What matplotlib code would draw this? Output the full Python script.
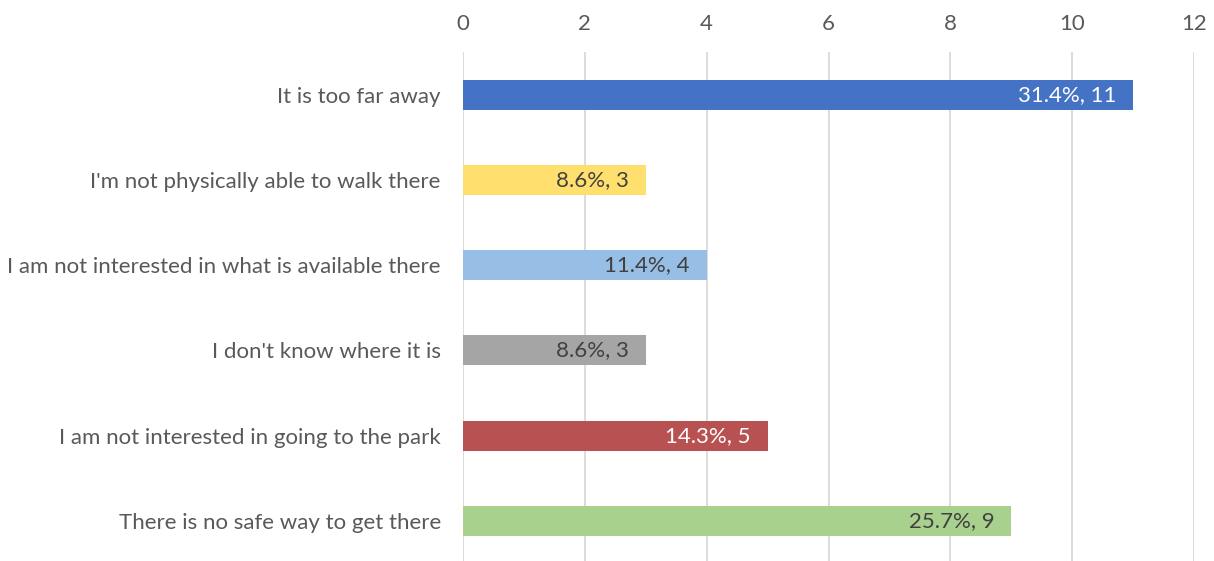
import matplotlib
matplotlib.use("Agg")
import matplotlib.pyplot as plt

# Survey responses: reasons for not visiting the park
reasons = [
    "It is too far away",
    "I'm not physically able to walk there",
    "I am not interested in what is available there",
    "I don't know where it is",
    "I am not interested in going to the park",
    "There is no safe way to get there",
]
counts = [11, 3, 4, 3, 5, 9]
percents = ["31.4%", "8.6%", "11.4%", "8.6%", "14.3%", "25.7%"]
colors = ["#4472C4", "#FFE06F", "#97BFE5", "#A5A5A5", "#B85252", "#A9D18E"]
label_colors = ["white", "#404040", "#404040", "#404040", "white", "#404040"]

plt.rcParams["font.family"] = ["Lato", "DejaVu Sans"]
FS = 16

fig = plt.figure(figsize=(12.14, 5.61), dpi=100)
ax = fig.add_axes([463 / 1214, 0, (1194 - 463) / 1214, 1 - 52 / 561])

ypos = list(range(len(reasons)))
bars = ax.barh(ypos, counts, height=0.35, color=colors, zorder=3)

for bar, pct, n, tc in zip(bars, percents, counts, label_colors):
    ax.annotate(f"{pct}, {n}", xy=(bar.get_width(), bar.get_y() + bar.get_height() / 2),
                xytext=(-17, 0), textcoords="offset pixels",
                ha="right", va="center", fontsize=FS, color=tc, zorder=4)

ax.set_xlim(0, 12)
ax.set_ylim(5.47, -0.5)
ax.set_xticks(range(0, 13, 2))
ax.set_yticks(ypos)
ax.set_yticklabels(reasons)
ax.xaxis.tick_top()
ax.tick_params(axis="x", length=0, pad=13, labelsize=FS, labelcolor="#595959")
ax.tick_params(axis="y", length=0, pad=16, labelsize=FS, labelcolor="#595959")
ax.grid(axis="x", color="#D9D9D9", linewidth=1.3, zorder=0)
for side in ax.spines.values():
    side.set_visible(False)

fig.savefig("out.png", dpi=100)
